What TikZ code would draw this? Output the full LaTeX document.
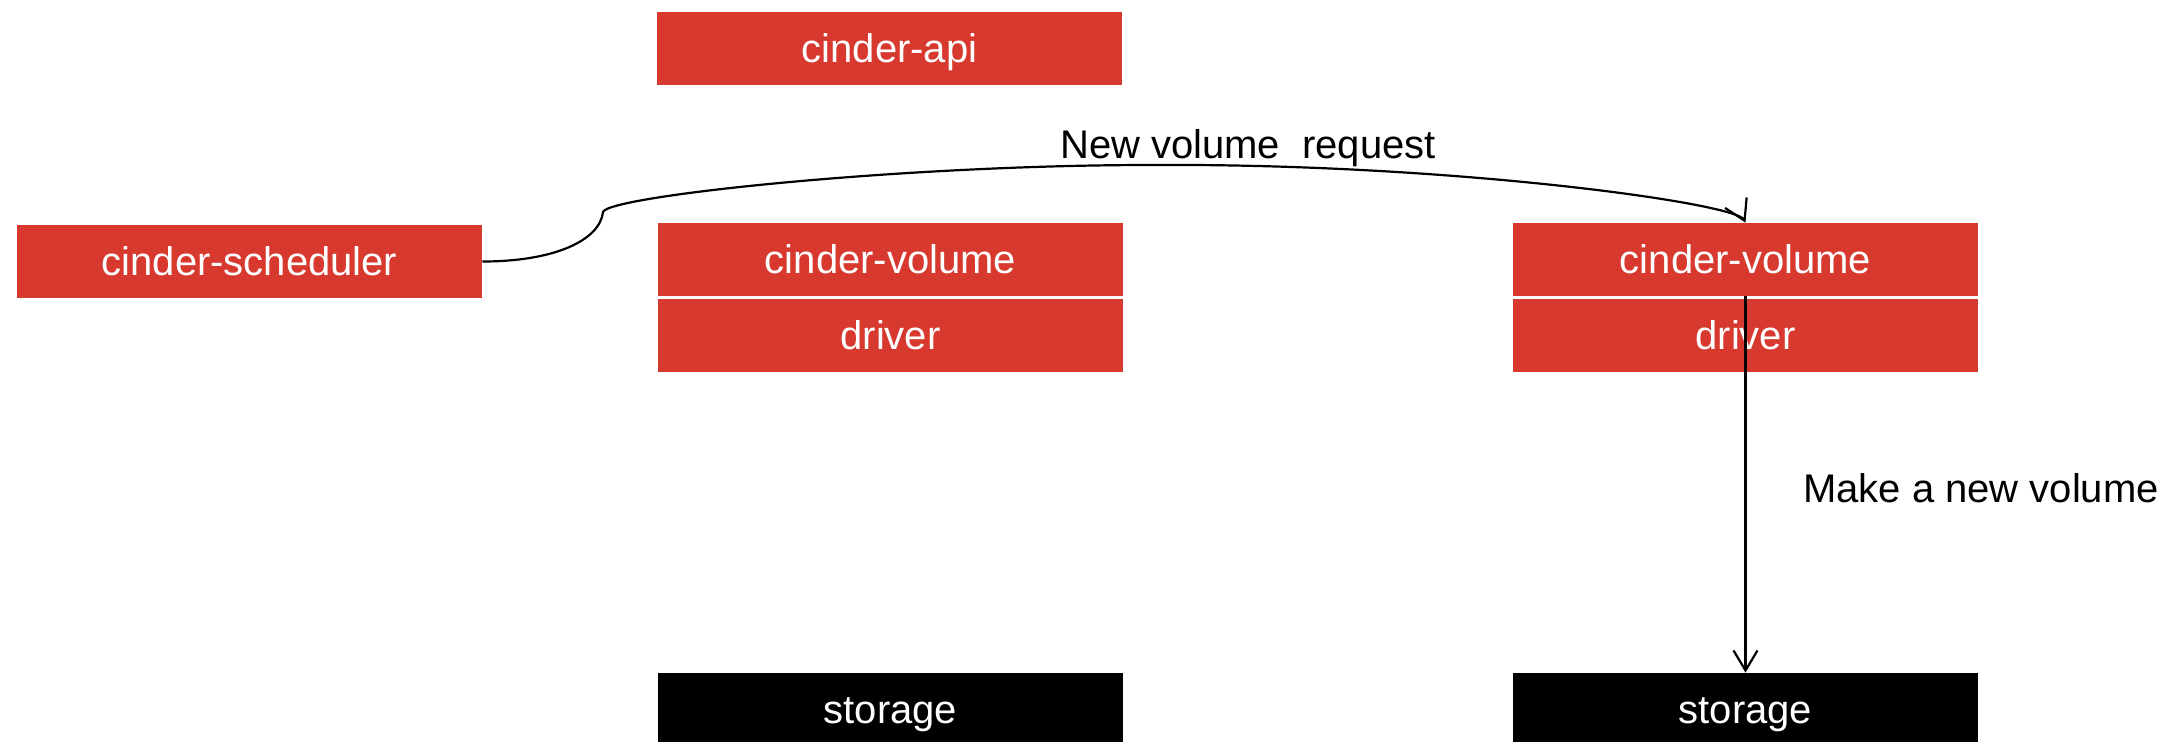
\documentclass[tikz,border=0pt]{standalone}
\usepackage{fontspec}
\setmainfont{Liberation Sans}
\usetikzlibrary{arrows.meta}
\definecolor{cinderred}{RGB}{216,57,47}

\begin{document}
\begin{tikzpicture}[x=0.5pt,y=-0.5pt] % one unit is one pixel, y runs down
	\tikzset{box/.style={rectangle,fill=cinderred,text=white,minimum width=232.5pt,minimum height=36.5pt,inner sep=0pt,text height=16pt,text depth=2pt,font=\fontsize{20}{24}\selectfont}}
	\tikzset{disk/.style={box,fill=black}}
	\tikzset{msg/.style={draw=black,line width=1.1pt,-{Straight Barb[length=10pt,width=12pt]}}}
	\tikzset{lbl/.style={anchor=base,inner sep=0pt,font=\fontsize{20}{24}\selectfont}}
	
	% Canvas (the storage boxes run off the bottom edge)
	\useasboundingbox (0,0) rectangle (2176,741);
	\clip (0,0) rectangle (2176,741);
	
	% Services
	\node[box] (api) at (889.5,48.5) {cinder-api};
	\node[box] (sched) at (249.5,261.5) {cinder-scheduler};
	
	% First volume node and its driver
	\node[box] (vol1) at (890.5,259.5) {cinder-volume};
	\node[box] (drv1) at (890.5,335) {driver};
	
	% Second volume node and its driver
	\node[box] (vol2) at (1745.5,259.5) {cinder-volume};
	\node[box] (drv2) at (1745.5,335) {driver};
	
	% Storage backends
	\node[disk] (st1) at (890.5,709.5) {storage};
	\node[disk] (st2) at (1745.5,709.5) {storage};
	
	% Request from the scheduler to the chosen volume node
	\coordinate (bump) at (603,212);
	\coordinate (peak) at (1150,165);
	\draw[msg] (sched.east) .. controls (555,261.5) and (600,240) .. (bump)
		.. controls (608,196) and (900,165) .. (peak)
		.. controls (1450,163) and (1736,203) .. (vol2.north);
	\node[lbl] (req) at (1248,158) {New volume\ \ request};
	
	% Driver creates the volume on the storage
	\draw[msg] (vol2.south) -- (st2.north);
	\node[lbl] (make) at (1981,502) {Make a new volume};
	
\end{tikzpicture}
\end{document}
